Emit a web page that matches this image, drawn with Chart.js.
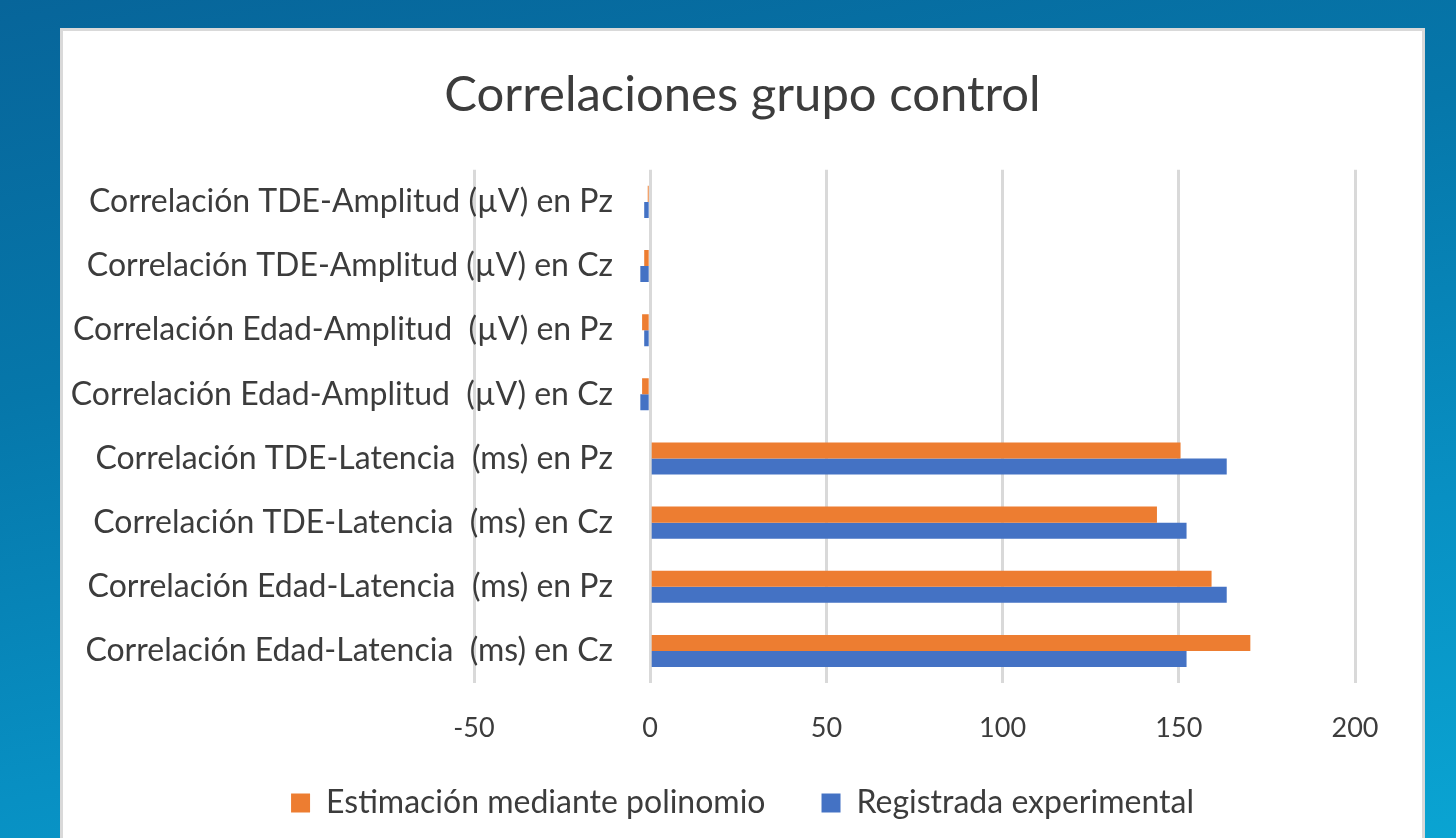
<!DOCTYPE html>
<html>
<head>
<meta charset="utf-8">
<script src="https://cdn.jsdelivr.net/npm/chart.js@4.4.0/dist/chart.umd.min.js"></script>
<style>
  html, body { margin: 0; padding: 0; width: 1456px; height: 838px; overflow: hidden; }
  body {
    position: relative;
    background: linear-gradient(168deg, #07659a 0%, #0677aa 35%, #0890c3 70%, #0aa4d2 100%);
  }
  #panel {
    position: absolute; left: 60px; top: 28px;
    width: 1359px; height: 830px;
    background: #fff; border: 3px solid #d9d9d9; border-bottom: none;
  }
  #chart { position: absolute; left: 0; top: 0; }
</style>
</head>
<body>
<div id="panel">
  <canvas id="chart" width="1359" height="807"></canvas>
</div>
<script>
// categories, top to bottom as shown
const categories = [
  'Correlación TDE-Amplitud (µV) en Pz',
  'Correlación TDE-Amplitud (µV) en Cz',
  'Correlación Edad-Amplitud  (µV) en Pz',
  'Correlación Edad-Amplitud  (µV) en Cz',
  'Correlación TDE-Latencia  (ms) en Pz',
  'Correlación TDE-Latencia  (ms) en Cz',
  'Correlación Edad-Latencia  (ms) en Pz',
  'Correlación Edad-Latencia  (ms) en Cz'
];

const estimada = [-0.7, -1.7, -2.3, -2.3, 150.5, 143.8, 159.3, 170.3];
const registrada = [-1.7, -2.8, -1.7, -2.8, 163.6, 152.2, 163.6, 152.2];

const seriesNames = ['Estimación mediante polinomio', 'Registrada experimental'];
const seriesColors = ['#ED7D31', '#4472C4'];

const xMin = -50;
const xMax = 200;
const xStep = 50;

const titleText = 'Correlaciones grupo control';
const textColor = '#3c3c3c';
const gridColor = '#d9d9d9';

Chart.defaults.font.family = 'Lato, "Open Sans", sans-serif';
Chart.defaults.color = textColor;

// tick labels may spill outside their own axis box
const noLabelClip = s => { s._computeLabelArea = () => undefined; };

new Chart(document.getElementById('chart'), {
  type: 'bar',
  data: {
    labels: categories,
    datasets: [
      { label: seriesNames[0], data: estimada, backgroundColor: seriesColors[0] },
      { label: seriesNames[1], data: registrada, backgroundColor: seriesColors[1] }
    ]
  },
  options: {
    indexAxis: 'y',
    responsive: false,
    animation: false,
    datasets: { bar: { categoryPercentage: 0.5, barPercentage: 1 } },
    layout: { padding: { bottom: 9 } },
    scales: {
      x: {
        type: 'linear',
        min: xMin,
        max: xMax,
        ticks: { stepSize: xStep, font: { size: 27 }, color: textColor, padding: 29 },
        grid: { color: gridColor, lineWidth: 3, drawTicks: false },
        border: { display: false },
        afterFit: s => { s.height = 48; noLabelClip(s); }
      },
      y: {
        type: 'category',
        grid: { display: false, drawTicks: false },
        border: { display: false },
        // labels sit left of the zero line, over the negative part of the plot
        ticks: { font: { size: 32 }, color: textColor, padding: -139, autoSkip: false },
        afterFit: s => { s.width = 411; noLabelClip(s); }
      },
      yRight: {
        type: 'linear',
        position: 'right',
        grid: { display: false, drawTicks: false },
        border: { display: false },
        ticks: { display: false },
        afterFit: s => { s.width = 67; }
      }
    },
    plugins: {
      title: {
        display: true,
        text: titleText,
        color: textColor,
        font: { size: 49, weight: 'normal' },
        padding: { top: 35, bottom: 45 }
      },
      legend: {
        position: 'bottom',
        labels: {
          boxWidth: 19,
          boxHeight: 19,
          padding: 56,
          color: textColor,
          font: { size: 32 }
        }
      },
      tooltip: { enabled: false }
    }
  }
});
</script>
</body>
</html>
